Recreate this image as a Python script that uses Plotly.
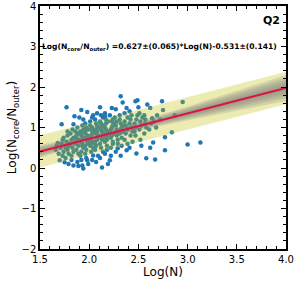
import numpy as np
import plotly.graph_objects as go

# fit parameters (from the annotation)
slope = 0.627
slope_err = 0.065
intercept = -0.531
intercept_err = 0.141

# scatter points: Log(N), Log(Ncore/Nouter)
pts = [
    (1.66, 0.45), (1.67, 0.55), (1.68, 0.62), (1.69, 0.35), (1.70, 0.19),
    (1.72, 1.08), (1.71, 0.50), (1.72, 0.60), (1.73, 0.70), (1.74, 0.40), (1.73, 0.30), (1.75, 0.14), (1.74, 0.75),
    (1.77, 1.50), (1.76, 0.50), (1.77, 0.65), (1.78, 0.80), (1.78, 0.45), (1.79, 0.35), (1.76, 0.25), (1.79, 0.55), (1.78, 0.90), (1.79, 0.10),
    (1.84, 1.08), (1.85, 1.28), (1.81, 0.60), (1.82, 0.70), (1.83, 0.50), (1.81, 0.85), (1.84, 0.40), (1.82, 0.30), (1.84, 0.06), (1.83, 0.95), (1.81, 0.55), (1.84, 0.75), (1.82, 0.20),
    (1.90, 1.25), (1.86, 0.65), (1.87, 0.80), (1.88, 0.70), (1.89, 0.55), (1.86, 0.90), (1.88, 1.00), (1.87, 0.45), (1.89, 0.35), (1.86, 0.60), (1.88, 0.15), (1.89, 0.05), (1.87, 0.75), (1.89, 0.85),
    (1.92, 1.43), (1.94, 1.20), (1.91, 0.70), (1.92, 0.80), (1.93, 0.60), (1.91, 0.90), (1.93, 1.05), (1.94, 0.50), (1.92, 0.40), (1.91, 0.30), (1.94, -0.01), (1.93, 0.06), (1.94, 0.75), (1.92, 0.85), (1.91, 0.65), (1.94, 0.95), (1.93, 0.55), (1.92, 0.20),
    (1.98, 1.38), (1.96, 1.10), (1.97, 0.75), (1.96, 0.85), (1.98, 0.65), (1.99, 0.95), (1.96, 0.55), (1.97, 0.45), (1.99, 0.70), (1.98, 0.80), (1.98, 0.19), (1.96, 0.35), (1.97, 1.00), (1.99, 0.60), (1.96, 0.90), (1.99, 0.10), (1.97, 0.25),
    (2.03, 1.25), (2.01, 1.15), (2.02, 0.80), (2.04, 0.90), (2.01, 0.70), (2.03, 1.00), (2.02, 0.60), (2.04, 0.50), (2.01, 0.75), (2.03, 0.85), (2.04, 0.31), (2.02, 0.40), (2.01, 1.05), (2.04, 0.65), (2.02, 0.95), (2.03, 0.20), (2.01, 0.55), (2.04, 1.30),
    (2.06, 1.20), (2.08, 1.35), (2.07, 0.85), (2.06, 0.95), (2.09, 0.75), (2.08, 1.05), (2.06, 0.65), (2.07, 0.55), (2.09, 0.80), (2.08, 0.90), (2.06, 0.45), (2.09, 0.30), (2.07, 1.10), (2.08, 0.70), (2.09, 1.00), (2.06, 0.60), (2.07, 0.15),
    (2.11, 1.50), (2.12, 1.30), (2.13, 0.90), (2.11, 1.00), (2.14, 0.80), (2.12, 1.10), (2.13, 0.70), (2.11, 0.60), (2.14, 0.85), (2.12, 0.95), (2.13, 0.01), (2.14, 0.40), (2.11, 1.15), (2.13, 0.75), (2.14, 1.05), (2.12, 0.50), (2.11, 0.25), (2.14, 1.25),
    (2.16, 1.35), (2.17, 1.20), (2.18, 0.90), (2.16, 1.00), (2.19, 0.80), (2.17, 1.10), (2.18, 0.70), (2.16, 0.65), (2.19, 0.85), (2.17, 0.95), (2.18, 0.45), (2.16, 0.35), (2.19, 1.15), (2.17, 0.75), (2.18, 0.55), (2.19, 0.10), (2.16, 1.28),
    (2.23, 1.48), (2.21, 1.30), (2.22, 0.95), (2.24, 1.05), (2.21, 0.85), (2.23, 1.15), (2.22, 0.75), (2.24, 0.65), (2.21, 0.90), (2.23, 1.00), (2.21, 0.19), (2.22, 0.50), (2.24, 1.20), (2.23, 0.80), (2.24, 0.60), (2.22, 0.30),
    (2.27, 1.45), (2.26, 1.25), (2.28, 0.95), (2.27, 1.05), (2.26, 0.85), (2.28, 1.15), (2.29, 0.70), (2.27, 0.90), (2.29, 0.49), (2.26, 1.10), (2.28, 0.80), (2.29, 0.60), (2.27, 0.40),
    (2.32, 1.77), (2.34, 1.62), (2.31, 1.30), (2.33, 1.00), (2.32, 1.10), (2.34, 0.90), (2.31, 1.20), (2.33, 0.75), (2.32, 0.95), (2.34, 1.05), (2.33, 0.55), (2.31, 0.85), (2.32, 0.30),
    (2.38, 1.48), (2.36, 1.35), (2.37, 1.05), (2.39, 0.95), (2.36, 1.15), (2.37, 0.85), (2.39, 1.25), (2.38, 0.44), (2.36, 0.70), (2.38, 1.00), (2.39, 0.60),
    (2.41, 1.40), (2.42, 1.20), (2.43, 1.00), (2.41, 1.10), (2.44, 0.90), (2.42, 0.80), (2.43, 1.30), (2.44, 0.65), (2.41, 0.50),
    (2.47, 1.65), (2.49, 1.67), (2.50, 1.50), (2.46, 1.10), (2.47, 1.00), (2.48, 1.20), (2.46, 0.90), (2.48, 0.36), (2.49, 1.30), (2.47, 0.80),
    (2.51, 1.35), (2.52, 1.15), (2.53, 1.05), (2.51, 0.95), (2.54, 1.25), (2.52, 0.70), (2.53, 0.55),
    (2.59, 1.57), (2.56, 1.30), (2.57, 1.10), (2.58, 1.00), (2.58, 0.24), (2.56, 0.85), (2.57, 1.20),
    (2.62, 1.48), (2.64, 1.23), (2.65, 0.63), (2.62, 0.50), (2.63, 1.10), (2.61, 0.95),
    (2.67, 0.21), (2.66, 1.15), (2.68, 1.00), (2.69, 1.30),
    (2.74, 1.65), (2.75, 1.43), (2.77, 0.44), (2.77, 0.76), (2.72, 1.20),
    (2.84, 0.88), (2.87, 1.30),
    (2.95, 1.63), (3.00, 0.58), (3.13, 0.63),
]
logN = [p[0] for p in pts]
ratio = [p[1] for p in pts]

x_range = [1.5, 4.0]
y_range = [-2, 4]
x_center = 2.2          # pivot of the bootstrap fan
scatter_band = 0.40     # half-width of yellow band
fan_base = 0.10         # gray fan half-width at pivot
fan_slope = 0.17        # gray fan growth per unit Log(N)

xs = np.linspace(x_range[0], x_range[1], 60)
yfit = slope * xs + intercept

fig = go.Figure()

fig.add_trace(go.Scatter(x=logN, y=ratio, mode="markers",
                         marker=dict(size=4.5, color="#1f77b4"),
                         showlegend=False, hoverinfo="skip"))

# yellow band
fig.add_trace(go.Scatter(x=np.concatenate([xs, xs[::-1]]),
                         y=np.concatenate([yfit + scatter_band, (yfit - scatter_band)[::-1]]),
                         fill="toself", fillcolor="rgba(191,191,0,0.3)",
                         line=dict(width=0), mode="lines", showlegend=False, hoverinfo="skip"))

# gray fan (several layers for gradient)
for frac in [1.0, 0.8, 0.6, 0.4, 0.2]:
    w = frac * np.sqrt(fan_base ** 2 + (fan_slope * (xs - x_center)) ** 2)
    fig.add_trace(go.Scatter(x=np.concatenate([xs, xs[::-1]]),
                             y=np.concatenate([yfit + w, (yfit - w)[::-1]]),
                             fill="toself", fillcolor="rgba(128,128,128,0.22)",
                             line=dict(width=0), mode="lines", showlegend=False, hoverinfo="skip"))

fig.add_trace(go.Scatter(x=xs, y=yfit, mode="lines",
                         line=dict(color="#dc143c", width=2),
                         showlegend=False, hoverinfo="skip"))

axis_common = dict(showline=True, linecolor="black", linewidth=1.5, mirror="allticks",
                   ticks="inside", ticklen=5, tickwidth=1.2, tickcolor="black",
                   showgrid=False, zeroline=False, automargin=False,
                   tickfont=dict(family="DejaVu Sans", size=10, color="black"))

fig.update_xaxes(range=x_range, dtick=0.5, tickformat=".1f",
                 minor=dict(dtick=0.1, ticks="inside", ticklen=3, tickcolor="black", tickwidth=1),
                 title=dict(text="Log(N)", font=dict(family="DejaVu Sans", size=12, color="black"), standoff=2),
                 **axis_common)
fig.update_yaxes(range=y_range, dtick=1,
                 minor=dict(dtick=0.2, ticks="inside", ticklen=3, tickcolor="black", tickwidth=1),
                 title=dict(text="Log(N<sub>core</sub>/N<sub>outer</sub>)",
                            font=dict(family="DejaVu Sans", size=12, color="black"), standoff=2),
                 **axis_common)

fig.add_annotation(x=1.505, y=3.0, xref="x", yref="y", xanchor="left", yanchor="middle",
                   text="<b>Log(N<sub>core</sub>/N<sub>outer</sub>) =0.627±(0.065)*Log(N)-0.531±(0.141)</b>",
                   showarrow=False, font=dict(family="DejaVu Sans", size=7.6, color="black"))
fig.add_annotation(x=0.985, y=0.975, xref="paper", yref="paper", xanchor="right", yanchor="top",
                   text="<b>Q2</b>", showarrow=False,
                   font=dict(family="DejaVu Sans", size=11, color="black"))

fig.update_layout(width=294, height=284, margin=dict(l=40, r=8, t=6, b=35),
                  plot_bgcolor="white", paper_bgcolor="white")

fig.write_html("out.html", config={"displayModeBar": False},
               post_script="document.body.style.margin='0';document.body.style.overflow='hidden';")
